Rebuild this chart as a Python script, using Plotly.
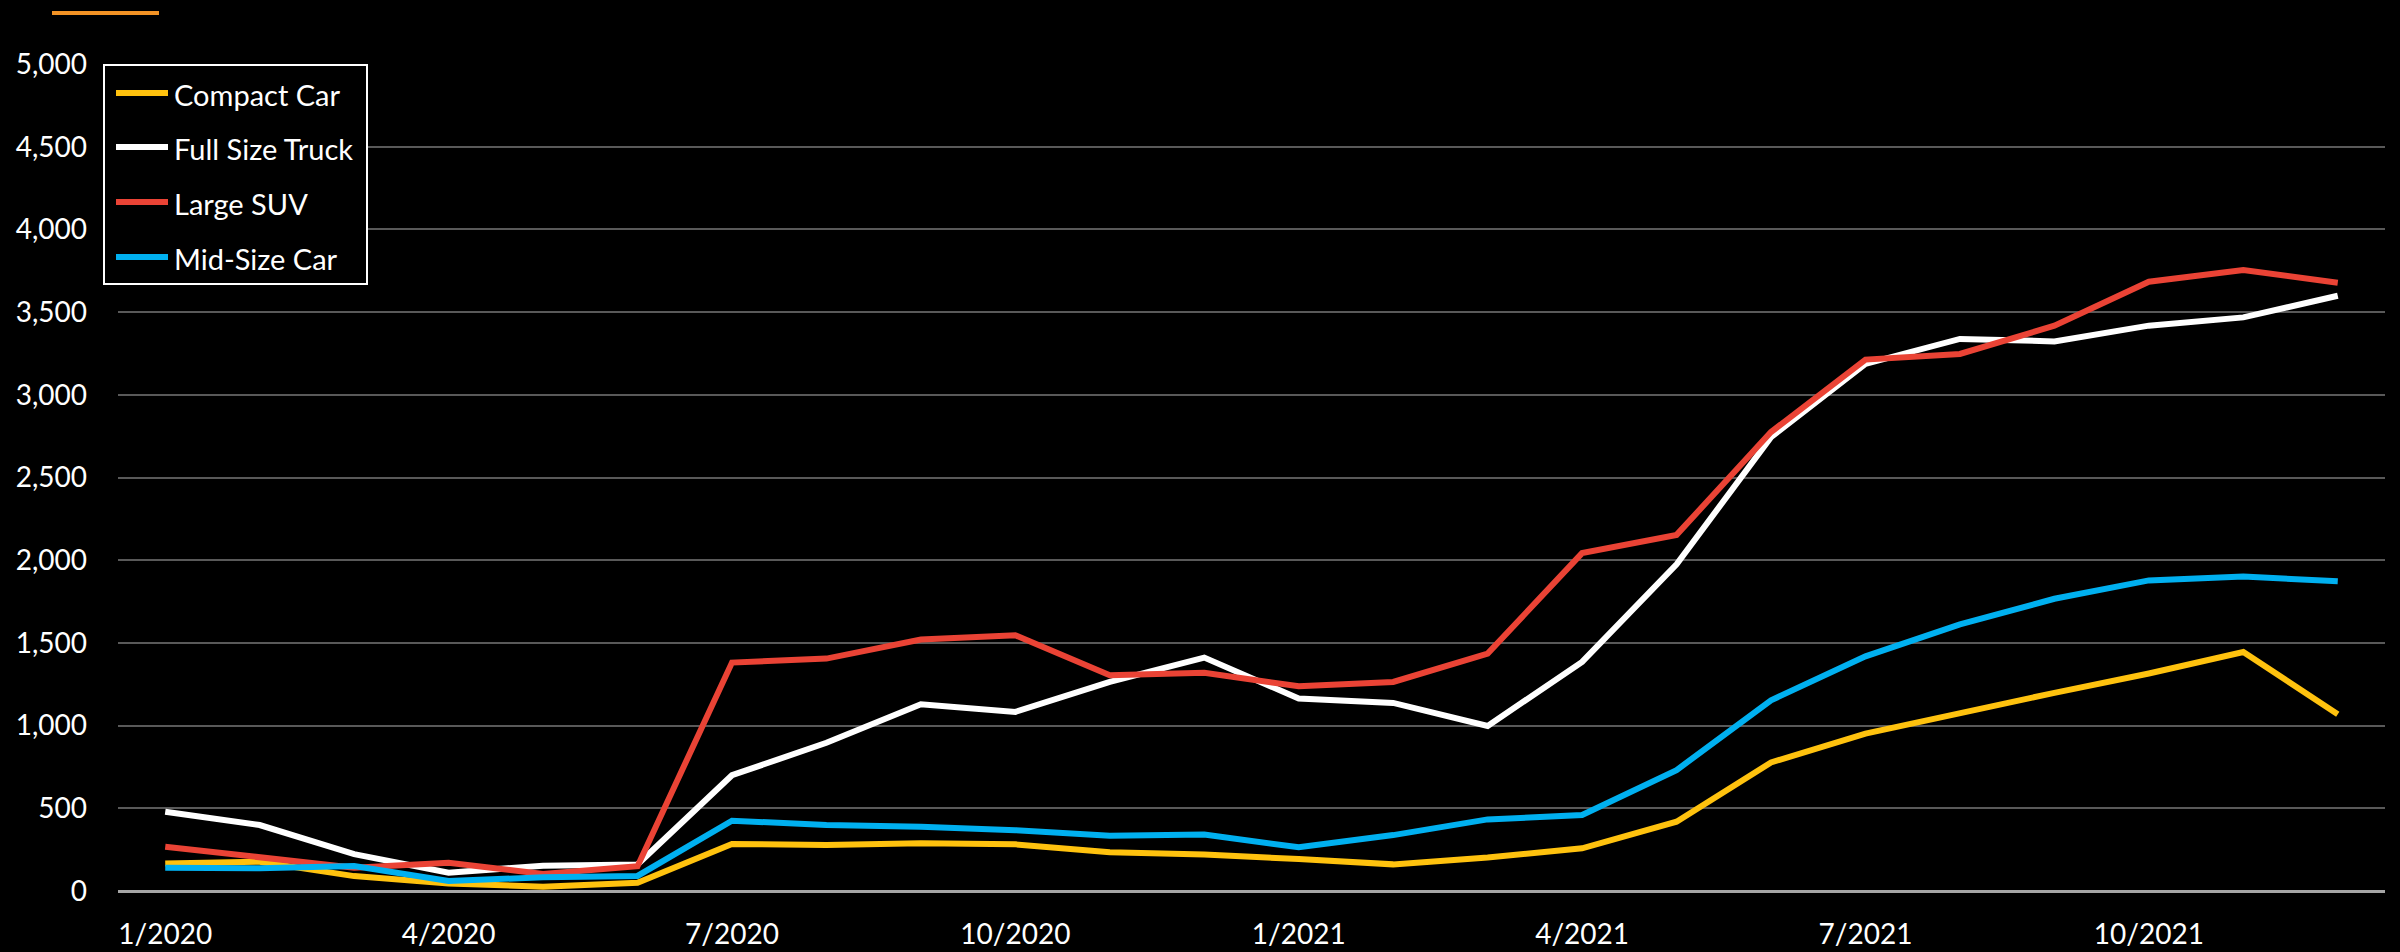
import plotly.graph_objects as go

months = [f"{m}/2020" for m in range(1, 13)] + [f"{m}/2021" for m in range(1, 13)]
tick_labels = ["1/2020", "4/2020", "7/2020", "10/2020", "1/2021", "4/2021", "7/2021", "10/2021"]

compact_car = [167, 177, 90, 46, 26, 50, 284, 278, 288, 282, 234, 221,
               193, 161, 203, 258, 419, 777, 952, 1077, 1198, 1315, 1445, 1069]
full_size_truck = [479, 399, 223, 111, 153, 160, 700, 896, 1129, 1083, 1264, 1411,
                   1164, 1137, 998, 1385, 1975, 2744, 3187, 3338, 3323, 3418, 3468, 3599]
large_suv = [268, 207, 140, 171, 103, 150, 1381, 1405, 1520, 1546, 1304, 1319,
             1238, 1264, 1435, 2043, 2153, 2775, 3213, 3247, 3418, 3684, 3754, 3678]
mid_size_car = [141, 137, 151, 60, 83, 91, 425, 399, 388, 368, 334, 342,
                264, 338, 433, 459, 731, 1153, 1419, 1612, 1767, 1878, 1902, 1872]

series_names = ["Compact Car", "Full Size Truck", "Large SUV", "Mid-Size Car"]
series_values = [compact_car, full_size_truck, large_suv, mid_size_car]
series_colors = ["#FFC20E", "#FFFFFF", "#EA4335", "#00B0F0"]

FONT = "Lato"

fig = go.Figure()
for name, vals, color in zip(series_names, series_values, series_colors):
    fig.add_trace(go.Scatter(
        x=months, y=vals, name=name, mode="lines",
        line=dict(color=color, width=6, shape="linear"),
        showlegend=False,
    ))

W, H = 2400, 952
PLOT_L, PLOT_R, PLOT_T, PLOT_B = 118, 2385, 64, 891  # in screenshot pixels
L = PLOT_L
R = W - PLOT_R
T = PLOT_T
B = H - PLOT_B
pw = PLOT_R - PLOT_L
ph = PLOT_B - PLOT_T

def px_x(x):
    return (x - PLOT_L) / pw

def px_y(y):
    return (PLOT_B - y) / ph

shapes = [dict(
    type="line", xref="paper", yref="paper",
    x0=px_x(52), x1=px_x(159), y0=px_y(13), y1=px_y(13),
    line=dict(color="#F39325", width=4),
)]
annotations = []

# legend box drawn by hand to match the original's long line samples
shapes.append(dict(
    type="rect", xref="paper", yref="paper",
    x0=px_x(104), x1=px_x(367), y0=px_y(65), y1=px_y(284),
    line=dict(color="white", width=2), fillcolor="black", layer="above",
))
entry_y = [93, 147, 202, 257]
for name, color, yy in zip(series_names, series_colors, entry_y):
    shapes.append(dict(
        type="line", xref="paper", yref="paper",
        x0=px_x(116), x1=px_x(168), y0=px_y(yy), y1=px_y(yy),
        line=dict(color=color, width=6), layer="above",
    ))
    annotations.append(dict(
        xref="paper", yref="paper", x=px_x(172), y=px_y(yy + 1),
        xanchor="left", yanchor="middle", text=name, showarrow=False,
        font=dict(family=FONT, size=29, color="white"),
    ))

fig.update_layout(
    width=W, height=H,
    margin=dict(l=L, r=R, t=T, b=B, autoexpand=False),
    paper_bgcolor="black", plot_bgcolor="black",
    font=dict(family=FONT, color="white", size=28),
    showlegend=False,
    xaxis=dict(
        type="category", categoryorder="array", categoryarray=months,
        range=[-0.5, 23.5], automargin=False,
        tickmode="array", tickvals=tick_labels, ticktext=tick_labels,
        showgrid=False, zeroline=False, showline=False, ticks="",
        tickfont=dict(family=FONT, size=28, color="white"),
        ticklabelstandoff=24,
    ),
    yaxis=dict(
        range=[0, 5000], dtick=500, tickformat=",d", automargin=False,
        showgrid=True, gridcolor="#595959", gridwidth=2,
        zeroline=True, zerolinecolor="#A6A6A6", zerolinewidth=3,
        showline=False, ticks="",
        tickfont=dict(family=FONT, size=28, color="white"),
        ticklabelstandoff=30,
    ),
    shapes=shapes,
    annotations=annotations,
)

fig.write_html(
    "out.html",
    config={"displayModeBar": False},
    post_script="document.body.style.margin='0';document.body.style.background='black';document.body.style.overflow='hidden';",
)
